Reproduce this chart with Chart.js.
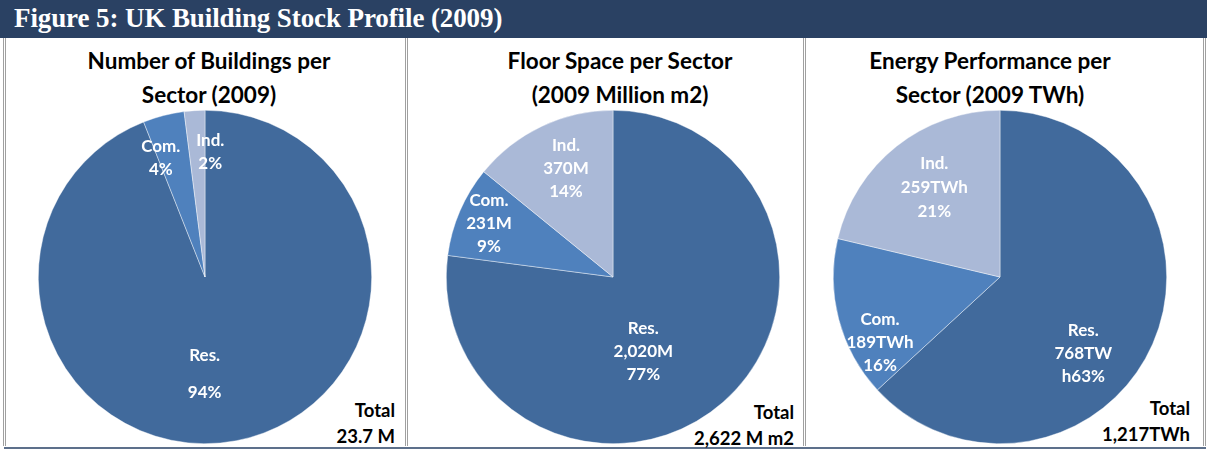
<!DOCTYPE html>
<html>
<head>
<meta charset="utf-8">
<script src="https://cdn.jsdelivr.net/npm/chart.js@4/dist/chart.umd.min.js"></script>
<style>
  body { margin: 0; width: 1207px; height: 450px; background: #fff; position: relative; overflow: hidden; }
  #header { position: absolute; left: 0; top: 0; width: 1207px; height: 38px; background: #2a4163; }
  #header span { position: absolute; left: 14px; top: 3px; color: #fff; font: bold 27px "Liberation Serif", "Times New Roman", serif; letter-spacing: -0.1px; }
  .frame { position: absolute; top: 38px; height: 408px; border-left: 3px double #a0a0a0; }
  #bottom { position: absolute; left: 4px; top: 447px; width: 1202px; height: 2px; background: #5d708b; }
  .title { position: absolute; top: 44px; text-align: center; color: #000; font: bold 22.5px Lato, "Open Sans", sans-serif; line-height: 34px; white-space: nowrap; }
  .total { position: absolute; text-align: right; color: #000; font: bold 18.5px Lato, "Open Sans", sans-serif; line-height: 26px; white-space: nowrap; }
  canvas { position: absolute; top: 40px; }
</style>
</head>
<body>
<div id="header"><span>Figure 5: UK Building Stock Profile (2009)</span></div>
<div class="frame" style="left:3px"></div>
<div class="frame" style="left:405px"></div>
<div class="frame" style="left:803px"></div>
<div class="frame" style="left:1203px"></div>
<div id="bottom"></div>

<div class="title" style="left:9px;width:400px">Number of Buildings per<br>Sector (2009)</div>
<div class="title" style="left:420px;width:400px">Floor Space per Sector<br>(2009 Million m2)</div>
<div class="title" style="left:790px;width:400px">Energy Performance per<br>Sector (2009 TWh)</div>

<div class="total" style="right:812px;top:397px">Total<br>23.7 M</div>
<div class="total" style="right:413px;top:399px">Total<br>2,622 M m2</div>
<div class="total" style="right:17px;top:395px">Total<br>1,217TWh</div>

<canvas id="pie1" width="398" height="406" style="left:7px"></canvas>
<canvas id="pie2" width="394" height="406" style="left:409px"></canvas>
<canvas id="pie3" width="394" height="406" style="left:808px"></canvas>

<script>
// Sector names and values
const sectors = ["Res.", "Com.", "Ind."];
const buildingShare = [94, 4, 2];          // % of 23.7 M buildings
const floorSpace = [2020, 231, 370];       // million m2
const energyUse = [768, 189, 259];         // TWh

const sectorColors = ["#416a9c", "#4f81bd", "#aab9d7"];

function pct(values) {
    const sum = values.reduce((a, b) => a + b, 0);
    return values.map(v => Math.round(v / sum * 100) + "%");
}

const floorPct = pct(floorSpace);
const energyPct = pct(energyUse);

// Label text per slice (the odd "768TW / h63%" break is from the original)
const labels1 = sectors.map((s, i) => [s, buildingShare[i] + "%"]);
const labels2 = sectors.map((s, i) => [s, floorSpace[i].toLocaleString("en-GB") + "M", floorPct[i]]);
const labels3 = sectors.map((s, i) => [s, energyUse[i] + "TWh", energyPct[i]]);
labels3[0] = ["Res.", "768TW", "h" + energyPct[0]];

// Plugin that writes the white labels inside each slice
const sliceLabels = {
    id: "sliceLabels",
    afterDatasetsDraw(chart, args, opts) {
        const ctx = chart.ctx;
        const arcs = chart.getDatasetMeta(0).data;
        ctx.save();
        ctx.fillStyle = "#fff";
        ctx.font = "bold 17px Lato, 'Open Sans', sans-serif";
        ctx.textAlign = "center";
        ctx.textBaseline = "middle";
        arcs.forEach((arc, i) => {
            const p = arc.getProps(["x", "y", "startAngle", "endAngle", "outerRadius"], true);
            const ang = (p.startAngle + p.endAngle) / 2 + opts.shift[i] * Math.PI / 180;
            const r = p.outerRadius * opts.radius[i];
            const x = p.x + Math.cos(ang) * r;
            const y = p.y + Math.sin(ang) * r;
            const lines = opts.text[i];
            const gap = opts.gap[i];
            const top = y - (lines.length - 1) * gap / 2;
            lines.forEach((t, k) => ctx.fillText(t, x, top + k * gap));
        });
        ctx.restore();
    }
};

// canvas spans the panel; padding puts the pie at centre (cx, cy) with radius r
function makePie(id, values, pie, labelOpts) {
    const canvas = document.getElementById(id);
    const x0 = canvas.offsetLeft, y0 = canvas.offsetTop;
    const padding = {
        left: pie.cx - pie.r - x0,
        right: x0 + canvas.width - (pie.cx + pie.r),
        top: pie.cy - pie.r - y0,
        bottom: y0 + canvas.height - (pie.cy + pie.r)
    };
    return new Chart(canvas.getContext("2d"), {
        type: "pie",
        data: {
            labels: sectors,
            datasets: [{
                data: values,
                backgroundColor: sectorColors,
                borderColor: "rgba(255,255,255,0.7)",
                borderWidth: 0.6
            }]
        },
        options: {
            responsive: false,
            animation: false,
            layout: { padding: padding },
            plugins: {
                legend: { display: false },
                tooltip: { enabled: false },
                sliceLabels: labelOpts
            }
        },
        plugins: [sliceLabels]
    });
}

makePie("pie1", buildingShare, { cx: 205, cy: 277, r: 167 },
    { text: labels1, radius: [0.58, 0.76, 0.75], shift: [11, -6, 6], gap: [37, 23, 23] });
makePie("pie2", floorSpace, { cx: 613, cy: 277, r: 167 },
    { text: labels2, radius: [0.48, 0.81, 0.71], shift: [19, 0, 2], gap: [23, 23, 23] });
makePie("pie3", energyUse, { cx: 1000, cy: 277, r: 167 },
    { text: labels3, radius: [0.68, 0.82, 0.665], shift: [19, -14, 2], gap: [23, 23, 24] });
</script>
</body>
</html>
